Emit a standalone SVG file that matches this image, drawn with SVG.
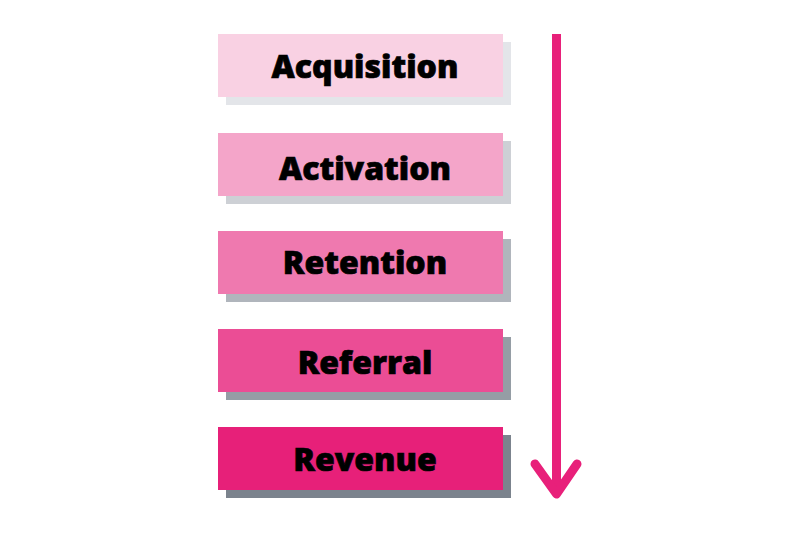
<svg xmlns="http://www.w3.org/2000/svg" width="800" height="533" viewBox="0 0 800 533">
<style>
.lbl{font-family:"Open Sans","Liberation Sans",sans-serif;font-weight:800;font-size:32px;fill:#000;stroke:#000;stroke-width:0.7;text-anchor:middle}
</style>
<rect width="800" height="533" fill="#fff"/>
<g id="acquisition">
<rect x="226" y="42" width="285" height="63" fill="#E3E5E9"/>
<rect x="218" y="34" width="285" height="63" fill="#F9D1E3"/>
<text class="lbl" x="365" y="78">Acquisition</text>
</g>
<g id="activation">
<rect x="226" y="141" width="285" height="63" fill="#CDD0D5"/>
<rect x="218" y="133" width="285" height="63" fill="#F4A5C9"/>
<text class="lbl" x="365" y="180">Activation</text>
</g>
<g id="retention">
<rect x="226" y="239" width="285" height="63" fill="#B0B5BC"/>
<rect x="218" y="231" width="285" height="63" fill="#EF79AF"/>
<text class="lbl" x="365" y="274">Retention</text>
</g>
<g id="referral">
<rect x="226" y="337" width="285" height="63" fill="#959DA5"/>
<rect x="218" y="329" width="285" height="63" fill="#EB4D95"/>
<text class="lbl" x="365" y="374">Referral</text>
</g>
<g id="revenue">
<rect x="226" y="435" width="285" height="63" fill="#7B838D"/>
<rect x="218" y="427" width="285" height="63" fill="#E72079"/>
<text class="lbl" x="365" y="471">Revenue</text>
</g>
<g id="connectors" fill="none" stroke="#E8207A" stroke-width="9" stroke-linecap="round" stroke-linejoin="round">
<line x1="556.5" y1="34" x2="556.5" y2="494" stroke-linecap="butt"/>
<polyline points="535,464 556.5,494 577,464"/>
</g>
</svg>
